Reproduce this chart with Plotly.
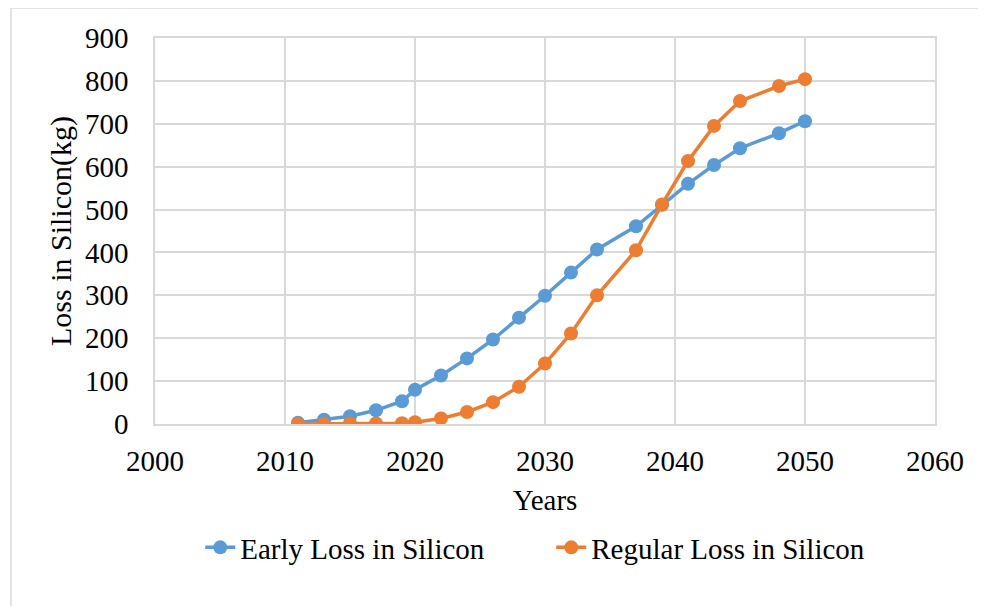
import plotly.graph_objects as go

years = [2011, 2013, 2015, 2017, 2019, 2020, 2022, 2024, 2026, 2028,
         2030, 2032, 2034, 2037, 2039, 2041, 2043, 2045, 2048, 2050]
early_loss = [3, 10, 18, 32, 53, 80, 113, 153, 197, 248,
              299, 353, 407, 461, 511, 560, 604, 643, 678, 706]
regular_loss = [0, 0, 1, 1, 2, 4, 13, 28, 51, 87,
                141, 211, 300, 405, 512, 613, 695, 753, 788, 804]

BLUE = "#5b9bd5"
ORANGE = "#ed7d31"
GRID = "#d9d9d9"
SERIF = "Liberation Serif"

fig = go.Figure()
fig.add_trace(go.Scatter(x=years, y=early_loss, name="Early Loss in Silicon",
                         mode="lines+markers",
                         line=dict(color=BLUE, width=3.5),
                         marker=dict(color=BLUE, size=14)))
fig.add_trace(go.Scatter(x=years, y=regular_loss, name="Regular Loss in Silicon",
                         mode="lines+markers",
                         line=dict(color=ORANGE, width=3.5),
                         marker=dict(color=ORANGE, size=14)))

# light frame around the whole chart (only left/top edges visible)
fig.add_shape(type="rect", xref="paper", yref="paper",
              x0=-0.1846, x1=1.3, y0=-0.6, y1=1.0777,
              line=dict(color=GRID, width=1.5), layer="below")

# page body adds an 8px offset, so the figure is 8px smaller
fig.update_layout(
    width=978, height=598,
    font=dict(family=SERIF, size=29, color="black"),
    paper_bgcolor="white", plot_bgcolor="white",
    margin=dict(l=147, r=51, t=30, b=182),
    showlegend=True,
    legend=dict(orientation="h", xanchor="left", x=0.058, yanchor="middle", y=-0.32,
                entrywidth=306, entrywidthmode="pixels",
                font=dict(family=SERIF, size=29), traceorder="normal"),
    xaxis=dict(range=[2000, 2060], dtick=10, tick0=2000,
               tickfont=dict(family=SERIF, size=29),
               showgrid=True, gridcolor=GRID, gridwidth=1.5,
               showline=True, linecolor=GRID, linewidth=1.5, mirror=True,
               zeroline=False,
               ticks="outside", ticklen=10, tickcolor="rgba(0,0,0,0)",
               title=dict(text="Years", font=dict(family=SERIF, size=29), standoff=14)),
    yaxis=dict(range=[0, 900], dtick=100,
               tickfont=dict(family=SERIF, size=29),
               showgrid=True, gridcolor=GRID, gridwidth=1.5,
               showline=True, linecolor=GRID, linewidth=1.5, mirror=True,
               zeroline=False,
               ticks="outside", ticklen=19, tickcolor="rgba(0,0,0,0)",
               title=dict(text="Loss in Silicon(kg)", font=dict(family=SERIF, size=30), standoff=4)),
)

fig.write_html("out.html")
